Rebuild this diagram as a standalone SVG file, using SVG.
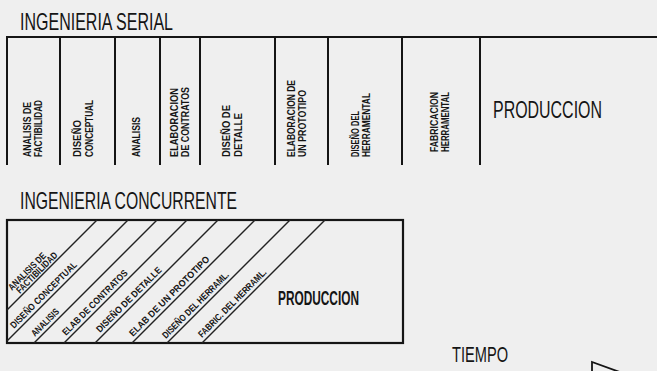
<svg xmlns="http://www.w3.org/2000/svg" width="657" height="371" viewBox="0 0 657 371">
<style>
.bg{fill:#efefef}
.box{fill:none;stroke:#151515;stroke-width:2.2}
.div{stroke:#151515;stroke-width:2}
.diag{stroke:#222;stroke-width:1.4}
.title{font-family:"Liberation Sans Narrow","Liberation Sans",sans-serif;font-size:24px;fill:#151515}
.prod{font-family:"Liberation Sans Narrow","Liberation Sans",sans-serif;font-size:23px;fill:#151515}
.small{font-family:"Liberation Sans Narrow","Liberation Sans",sans-serif;font-size:10px;font-weight:bold;fill:#151515}
.dsmall{font-family:"Liberation Sans Narrow","Liberation Sans",sans-serif;font-size:9.5px;font-weight:bold;fill:#151515}
.arrow{fill:none;stroke:#151515;stroke-width:1.8}
</style>
<rect class="bg" x="0" y="0" width="657" height="371"/>

<g id="serial-title"><text class="title" x="20" y="30" textLength="153" lengthAdjust="spacingAndGlyphs">INGENIERIA SERIAL</text></g>

<g id="serial-bar">
  <line class="div" x1="7" y1="37" x2="657" y2="37"/>
  <line class="div" x1="7" y1="36" x2="7" y2="165"/>
  <line class="div" x1="60" y1="37" x2="60" y2="165"/>
  <line class="div" x1="115" y1="37" x2="115" y2="165"/>
  <line class="div" x1="160" y1="37" x2="160" y2="165"/>
  <line class="div" x1="200" y1="37" x2="200" y2="165"/>
  <line class="div" x1="275" y1="37" x2="275" y2="165"/>
  <line class="div" x1="328" y1="37" x2="328" y2="165"/>
  <line class="div" x1="402" y1="37" x2="402" y2="165"/>
  <line class="div" x1="480" y1="37" x2="480" y2="165"/>
</g>

<g id="s-factibilidad" transform="translate(31,157) rotate(-90)">
  <text class="small" x="0" y="0" textLength="55" lengthAdjust="spacingAndGlyphs">ANALISIS DE</text>
  <text class="small" x="0" y="11" textLength="57" lengthAdjust="spacingAndGlyphs">FACTIBILIDAD</text>
</g>
<g id="s-conceptual" transform="translate(81,157) rotate(-90)">
  <text class="small" x="0" y="0" textLength="37" lengthAdjust="spacingAndGlyphs">DISEÑO</text>
  <text class="small" x="0" y="12" textLength="57" lengthAdjust="spacingAndGlyphs">CONCEPTUAL</text>
</g>
<g id="s-analisis" transform="translate(140,157) rotate(-90)">
  <text class="small" x="0" y="0" textLength="40" lengthAdjust="spacingAndGlyphs">ANALISIS</text>
</g>
<g id="s-contratos" transform="translate(178,157) rotate(-90)">
  <text class="small" x="0" y="0" textLength="69" lengthAdjust="spacingAndGlyphs">ELABORACION</text>
  <text class="small" x="0" y="11" textLength="70" lengthAdjust="spacingAndGlyphs">DE CONTRATOS</text>
</g>
<g id="s-detalle" transform="translate(230,157) rotate(-90)">
  <text class="small" x="0" y="0" textLength="52" lengthAdjust="spacingAndGlyphs">DISEÑO DE</text>
  <text class="small" x="0" y="12" textLength="44" lengthAdjust="spacingAndGlyphs">DETALLE</text>
</g>
<g id="s-prototipo" transform="translate(295,157) rotate(-90)">
  <text class="small" x="0" y="0" textLength="77" lengthAdjust="spacingAndGlyphs">ELABORACION DE</text>
  <text class="small" x="0" y="11" textLength="67" lengthAdjust="spacingAndGlyphs">UN PROTOTIPO</text>
</g>
<g id="s-dis-herramental" transform="translate(359,157) rotate(-90)">
  <text class="small" x="0" y="0" textLength="46" lengthAdjust="spacingAndGlyphs">DISEÑO DEL</text>
  <text class="small" x="0" y="11" textLength="64" lengthAdjust="spacingAndGlyphs">HERRAMENTAL</text>
</g>
<g id="s-fab-herramental" transform="translate(438,157) rotate(-90)">
  <text class="small" x="5" y="0" textLength="60" lengthAdjust="spacingAndGlyphs">FABRICACION</text>
  <text class="small" x="5" y="11" textLength="60" lengthAdjust="spacingAndGlyphs">HERRAMENTAL</text>
</g>
<g id="s-produccion"><text class="prod" x="493" y="118" textLength="109" lengthAdjust="spacingAndGlyphs">PRODUCCION</text></g>

<g id="concurrent-title"><text class="title" x="20" y="209" textLength="217" lengthAdjust="spacingAndGlyphs">INGENIERIA CONCURRENTE</text></g>

<g id="concurrent-box">
  <rect class="box" x="7" y="220" width="396" height="123"/>
  <line class="diag" x1="97" y1="220" x2="7" y2="310"/>
  <line class="diag" x1="128" y1="220" x2="7" y2="341"/>
  <line class="diag" x1="157" y1="220" x2="34" y2="343"/>
  <line class="diag" x1="187" y1="220" x2="64" y2="343"/>
  <line class="diag" x1="218" y1="220" x2="95" y2="343"/>
  <line class="diag" x1="255" y1="220" x2="132" y2="343"/>
  <line class="diag" x1="290" y1="220" x2="167" y2="343"/>
  <line class="diag" x1="325" y1="220" x2="202" y2="343"/>
</g>

<g id="c-factibilidad">
  <text class="dsmall" transform="translate(12,291) rotate(-45)" textLength="49" lengthAdjust="spacingAndGlyphs">ANALISIS DE</text>
  <text class="dsmall" transform="translate(20,294) rotate(-45)" textLength="54" lengthAdjust="spacingAndGlyphs">FACTIBILIDAD</text>
</g>
<g id="c-conceptual"><text class="dsmall" transform="translate(14,329) rotate(-45)" textLength="90" lengthAdjust="spacingAndGlyphs">DISEÑO CONCEPTUAL</text></g>
<g id="c-analisis"><text class="dsmall" transform="translate(35,337) rotate(-45)" textLength="35" lengthAdjust="spacingAndGlyphs">ANALISIS</text></g>
<g id="c-contratos"><text class="dsmall" transform="translate(66,336) rotate(-45)" textLength="88" lengthAdjust="spacingAndGlyphs">ELAB DE CONTRATOS</text></g>
<g id="c-detalle"><text class="dsmall" transform="translate(100,333) rotate(-45)" textLength="88" lengthAdjust="spacingAndGlyphs">DISEÑO DE DETALLE</text></g>
<g id="c-prototipo"><text class="dsmall" transform="translate(133,337) rotate(-45)" textLength="109" lengthAdjust="spacingAndGlyphs">ELAB DE UN PROTOTIPO</text></g>
<g id="c-dis-herramental"><text class="dsmall" transform="translate(166,339) rotate(-45)" textLength="90" lengthAdjust="spacingAndGlyphs">DISEÑO DEL HERRAML.</text></g>
<g id="c-fab-herramental"><text class="dsmall" transform="translate(202,338) rotate(-45)" textLength="92" lengthAdjust="spacingAndGlyphs">FABRIC. DEL HERRAML.</text></g>
<g id="c-produccion"><text class="prod" style="font-size:20px;font-weight:bold" x="278" y="305" textLength="81" lengthAdjust="spacingAndGlyphs">PRODUCCION</text></g>

<g id="tiempo"><text class="title" style="font-size:22px" x="452" y="362" textLength="56" lengthAdjust="spacingAndGlyphs">TIEMPO</text></g>

<g id="connectors">
  <polyline class="arrow" points="592,372 592,362 628,375"/>
</g>
</svg>
